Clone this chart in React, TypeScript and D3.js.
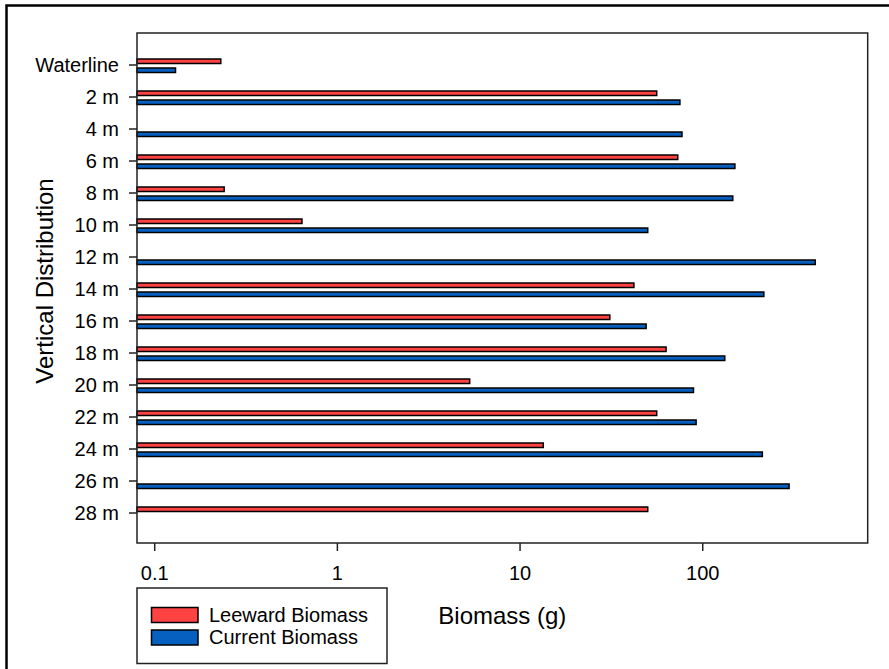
import React from "react";
import * as d3 from "d3";

const categories = ["Waterline", "2 m", "4 m", "6 m", "8 m", "10 m", "12 m", "14 m", "16 m", "18 m", "20 m", "22 m", "24 m", "26 m", "28 m"];
const leewardBiomass: (number | null)[] = [0.23, 56, null, 73, 0.24, 0.64, null, 42, 31, 63, 5.3, 56, 13.4, null, 50];
const currentBiomass: (number | null)[] = [0.13, 75, 77, 150, 146, 50, 413, 216, 49, 132, 89, 92, 212, 297, null];
const xTicks = [0.1, 1, 10, 100];
const xTickLabels = ["0.1", "1", "10", "100"];
const seriesNames = ["Leeward Biomass", "Current Biomass"];
const seriesColors = ["#FF4242", "#0560C0"];

const W = 889;
const H = 669;
const plot = { left: 137, right: 867.7, top: 33, bottom: 543 };
const font = "'Liberation Sans', Arial, Helvetica, sans-serif";

export default function App() {
  const x = d3.scaleLog().domain([0.08, 800]).range([plot.left, plot.right]);
  const y = d3.scalePoint<string>().domain(categories).range([65, 513]);
  const barH = 4.5;

  return (
    <svg width={W} height={H} style={{ position: "absolute", left: 0, top: 0, background: "#fff" }} fontFamily={font}>
      <rect x={6.5} y={5.5} width={W + 20} height={H + 20} fill="none" stroke="#000" strokeWidth={2.5} />
      {/* bars */}
      {categories.map((c, i) => {
        const cy = y(c)!;
        const lv = leewardBiomass[i];
        const cv = currentBiomass[i];
        return (
          <g key={c}>
            {lv != null && (
              <rect x={plot.left} y={cy - 6} width={x(lv) - plot.left} height={barH} fill={seriesColors[0]} stroke="#000" strokeWidth={1.5} />
            )}
            {cv != null && (
              <rect x={plot.left} y={cy + 3} width={x(cv) - plot.left} height={barH} fill={seriesColors[1]} stroke="#000" strokeWidth={1.5} />
            )}
          </g>
        );
      })}
      {/* plot frame */}
      <rect x={plot.left} y={plot.top} width={plot.right - plot.left} height={plot.bottom - plot.top} fill="none" stroke="#222" strokeWidth={1.5} />
      {/* y ticks */}
      {categories.map((c) => (
        <g key={"yt" + c}>
          <line x1={plot.left - 8} x2={plot.left} y1={y(c)!} y2={y(c)!} stroke="#222" strokeWidth={1.5} />
          <text x={119} y={y(c)!} dy="0.36em" textAnchor="end" fontSize={20} fill="#000">{c}</text>
        </g>
      ))}
      {/* x ticks */}
      {xTicks.map((t, i) => (
        <g key={"xt" + t}>
          <line x1={x(t)} x2={x(t)} y1={plot.bottom} y2={plot.bottom + 8} stroke="#222" strokeWidth={1.5} />
          <text x={x(t)} y={580} textAnchor="middle" fontSize={20} fill="#000">{xTickLabels[i]}</text>
        </g>
      ))}
      {/* axis titles */}
      <text x={(plot.left + plot.right) / 2} y={624} textAnchor="middle" fontSize={24} fill="#000">Biomass (g)</text>
      <text transform={`translate(53,281) rotate(-90)`} textAnchor="middle" fontSize={24} fill="#000">Vertical Distribution</text>
      {/* legend */}
      <rect x={137} y={588} width={250} height={75.5} fill="#fff" stroke="#222" strokeWidth={1.5} />
      {seriesNames.map((s, i) => (
        <g key={s}>
          <rect x={151.5} y={607.5 + i * 22.5} width={46.5} height={15} fill={seriesColors[i]} stroke="#000" strokeWidth={1.5} />
          <text x={209} y={621.5 + i * 22.5} fontSize={20} fill="#000">{s}</text>
        </g>
      ))}
    </svg>
  );
}
